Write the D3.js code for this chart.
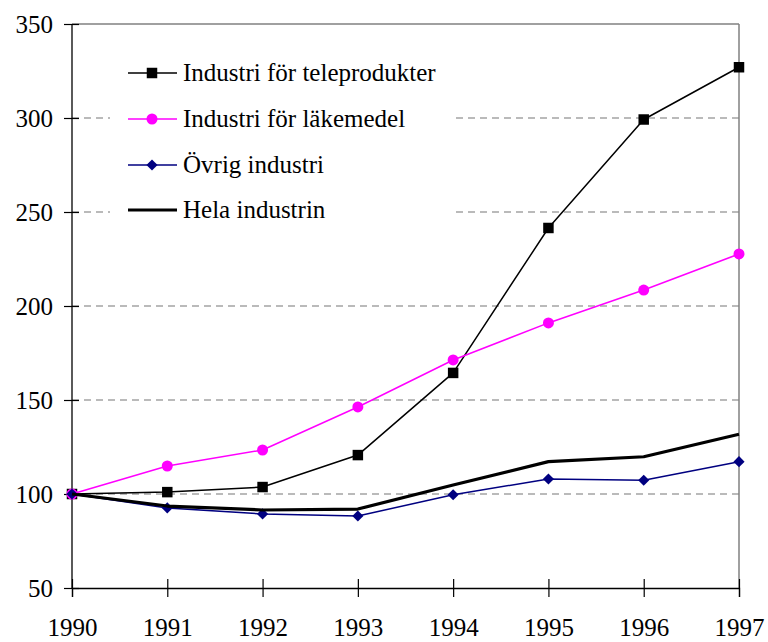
<!DOCTYPE html>
<html>
<head>
<meta charset="utf-8">
<script src="https://cdn.jsdelivr.net/npm/d3@7"></script>
<style>
  body { margin: 0; background: #fff; }
</style>
</head>
<body>
<svg id="chart" width="768" height="642"></svg>
<script>
// årtal och indexserier (1990 = 100)
const years = [1990, 1991, 1992, 1993, 1994, 1995, 1996, 1997];
const tele = [100, 101, 103.7, 120.7, 164.4, 241.5, 299.2, 327];
const lakemedel = [100, 114.9, 123.4, 146.3, 171.3, 191, 208.5, 227.7];
const ovrig = [100, 92.6, 89.4, 88.3, 99.6, 108, 107.3, 117.2];
const hela = [100, 93.6, 91.5, 92, 104.8, 117.2, 119.8, 131.8];
const yTicks = [50, 100, 150, 200, 250, 300, 350];

const series = [
  { namn: "Industri för teleprodukter", varden: tele, farg: "#000", bredd: 1.5, markor: "square" },
  { namn: "Industri för läkemedel", varden: lakemedel, farg: "#ff00ff", bredd: 1.5, markor: "circle" },
  { namn: "Övrig industri", varden: ovrig, farg: "#000080", bredd: 1.5, markor: "diamond" },
  { namn: "Hela industrin", varden: hela, farg: "#000", bredd: 3.2, markor: null }
];

const FONT = "'Liberation Serif', 'Times New Roman', serif";

const svg = d3.select("#chart");
const vanster = 72, hoger = 739, topp = 24, botten = 588;

const x = d3.scaleLinear().domain([1990, 1997]).range([vanster, hoger]);
const y = d3.scaleLinear().domain([50, 350]).range([botten, topp]);

// stödlinjer
svg.append("g")
  .selectAll("line")
  .data(yTicks.filter(d => d > 50 && d < 350))
  .enter().append("line")
  .attr("x1", vanster).attr("x2", hoger)
  .attr("y1", d => y(d)).attr("y2", d => y(d))
  .attr("stroke", "#777")
  .attr("stroke-width", 1.2)
  .attr("stroke-dasharray", "7,5");

// ram uppe och höger
svg.append("line").attr("x1", vanster).attr("x2", hoger).attr("y1", y(350)).attr("y2", y(350))
  .attr("stroke", "#808080").attr("stroke-width", 1.5);
svg.append("line").attr("x1", hoger).attr("x2", hoger).attr("y1", y(350)).attr("y2", y(50))
  .attr("stroke", "#808080").attr("stroke-width", 1.5);

// legendens bakgrund
const legend = svg.append("g");
legend.append("rect")
  .attr("x", 110).attr("y", 48).attr("width", 345).attr("height", 185)
  .attr("fill", "#fff");

// axlar
const yAxis = svg.append("g")
  .attr("transform", `translate(${vanster},0)`)
  .call(d3.axisLeft(y).tickValues(yTicks).tickSize(7).tickPadding(12));
yAxis.selectAll(".tick line").attr("x2", 7).attr("x1", -8);

const xAxis = svg.append("g")
  .attr("transform", `translate(0,${botten})`)
  .call(d3.axisBottom(x).tickValues(years).tickFormat(d3.format("d")).tickSize(9).tickPadding(21));
xAxis.selectAll(".tick line").attr("y1", -9).attr("y2", 9);

svg.selectAll(".domain").attr("stroke", "#000").attr("stroke-width", 1.3);
svg.selectAll(".tick line").attr("stroke", "#000").attr("stroke-width", 1.2);
svg.selectAll(".tick text")
  .style("font-family", FONT)
  .style("font-size", "25px")
  .attr("fill", "#000");
yAxis.select(".domain").attr("d", `M0,${topp}V${botten}`);

// linjer och markörer
const line = d3.line().x((d, i) => x(years[i])).y(d => y(d));

const symbolTyp = { square: d3.symbolSquare, circle: d3.symbolCircle, diamond: d3.symbolSquare };
const symbolStorlek = { square: 110, circle: 95, diamond: 62 };

function ritaMarkor(sel, typ, farg) {
  sel.attr("d", d3.symbol().type(symbolTyp[typ]).size(symbolStorlek[typ])())
    .attr("fill", farg)
    .attr("stroke", "none");
}

series.forEach(s => {
  const g = svg.append("g");
  g.append("path")
    .datum(s.varden)
    .attr("d", line)
    .attr("fill", "none")
    .attr("stroke", s.farg)
    .attr("stroke-width", s.bredd)
    .attr("stroke-linejoin", "round");
  if (s.markor) {
    g.selectAll("path.m")
      .data(s.varden)
      .enter().append("path")
      .attr("class", "m")
      .attr("transform", (d, i) => `translate(${x(years[i])},${y(d)})` + (s.markor === "diamond" ? " rotate(45)" : ""))
      .call(ritaMarkor, s.markor, s.farg);
  }
});

// legend
const legendRader = [73, 119, 165, 210];
series.forEach((s, i) => {
  const rad = legend.append("g").attr("transform", `translate(0,${legendRader[i]})`);
  rad.append("line")
    .attr("x1", 128).attr("x2", 177)
    .attr("stroke", s.farg).attr("stroke-width", s.bredd);
  if (s.markor) {
    rad.append("path")
      .attr("transform", "translate(152,0)" + (s.markor === "diamond" ? " rotate(45)" : ""))
      .call(ritaMarkor, s.markor, s.farg);
  }
  rad.append("text")
    .attr("x", 183).attr("dy", "0.33em")
    .style("font-family", FONT)
    .style("font-size", "25px")
    .attr("fill", "#000")
    .text(s.namn);
});
</script>
</body>
</html>
